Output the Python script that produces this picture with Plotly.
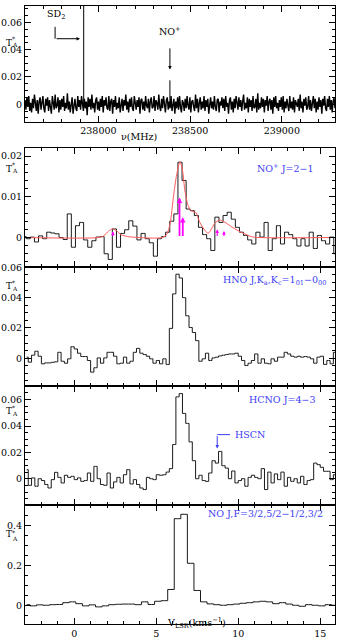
import numpy as np
import plotly.graph_objects as go

# ---------------- data ----------------
# top panel: wide-band spectrum (mK), channel grid over the frequency range
freq_start, freq_stop = 237600.0, 239290.0
wide_noise_mk = [
    3, -4, 5, -2, 6, -5, 1, -6, 4, -3, 7, -2, -5, 3, -7, 2, 5, -4, 0, 6,
    -3, -6, 4, -1, 5, -5, 3, -2, -7, 6, 2, -4, 7, -3, -1, 5, -6, 3, -4, 4,
    -2, 6, -5, 1, -3, 8, -4, 2, -6, 3, 5, -7, 1, 4, -3, -5, 6, -2, 3, -4,
    6, -1, -5, 4, -3, 2, -8, 5, -2, 4, -4, 7, -3, 1, -6, 3, 5, -4, 2, -5,
    4, -2, 6, -6, 3, -1, 5, -3, -4, 6, -5, 2, 4, -7, 3, -2, 6, -4, 1, -3,
    5, -6, 2, 4, -5, 3, -1, 7, -4, 2, -6, 4, -2, 5, -3, -5, 6, 1, -4, 3,
    -2, 5, -7, 3, 4, -4, 2, -5, 6, -1, -3, 4, -6, 2, 5, -3, -2, 6, -5, 3,
    1, -4, 7, -2, -5, 4, -3, 6, -1, -6, 3, 5, -4, 2, -3, 6, -5, 1, 4, -7,
    2, -3, 5, -4, 6, -2, -6, 3, 1, -5, 4, -3, 6, -1, -4, 5, -6, 2, 3, -2,
    -5, 7, -3, 4, -6, 1, 5, -4, 2, -3, 6, -5, 3, -2, 4, -7, 1, 5, -3, 2,
    -4, 6, -2, -5, 3, 4, -6, 2, -1, 5, -3, 4, -5, 6, -2, 1, -7, 3, 5, -4,
    2, -6, 4, -3, 6, -1, -4, 5, -2, 3, -5, 2, 7, -4, 1, -3, 5, -6, 4, -2,
    3, -5, 6, -3, -2, 4, -6, 8, -4, 1, -3, 5, -2, 4, -6, 3, -1, 6, -5, 2,
    4, -4, 3, -7, 5, -2, 6, -3, 1, -5, 3, -2, 5, -4, 6, -6, 2, -3, 4, -1,
    -5, 6, -3, 2, -4, 5, -6, 3, 1, -2, 4, -5, 7, -3, 2, -6, 4, -1, 5, -4,
    -2, 6, -4, 3, -5, 1, 6, -3, 4, -6, 2, -4, 5, -2, 3, -7, 4, -1, 6, -3,
    -5, 4, -2, 6, -4, 3, -6, 2, 5, -3,
]
line_names = ["SD2", "NO+"]
line_freqs = [237920.0, 238390.0]
line_peaks = [0.08, 0.0175]

# NO+ J=2-1 (mK), 0.25 km/s channels
noplus_v0, noplus_dv = -3.05, 0.25
noplus_mk = [
    0.2, -0.3, 0.1, -1.1, 0.4, -0.3, 1.3, 1.1, 0.9, 0.0,
    -0.5, 5.8, -2.4, 2.9, 3.7, -0.6, -2.4, -0.8, 0.1, 0.2,
    -4.0, -5.4, 2.1, -2.4, 1.0, 1.9, 4.1, 2.8, -0.6, 1.0,
    -0.3, -1.3, -4.6, -0.3, 0.2, 1.3, 4.0, 5.8,
    18.5, 14.0, 7.0, 6.6, 5.4, 2.5, 0.7, -0.3, -3.2, 5.0,
    3.7, 5.4, 6.2, 4.5, 2.5, 1.3, 0.5, -0.6, -1.6, 1.3,
    0.1, 3.7, -3.2, -0.3, 2.9, -1.6, 1.3, 0.7, -0.3, -2.1,
    -0.3, -2.1, 1.3, -2.7, 0.5, -0.8, -1.6, 0.1, -4.0,
]
# hyperfine model fit (mK)
model_v = [-3.0, 1.5, 1.8, 2.1, 2.35, 2.6, 2.85, 3.25, 3.9, 5.4, 5.65, 5.85,
           6.05, 6.25, 6.45, 6.6, 6.75, 6.95, 7.15, 7.4, 7.66, 7.97, 8.17,
           8.37, 8.57, 8.87, 9.17, 9.57, 9.98, 10.39, 10.8, 11.2, 16.0]
model_mk = [0.0, 0.0, 0.4, 1.6, 2.1, 1.6, 0.7, 0.25, 0.0, 0.0, 0.8, 3.5,
            10.0, 15.5, 18.6, 16.5, 11.5, 7.8, 6.5, 6.2, 3.7, 1.7, 1.05,
            2.1, 3.5, 4.3, 3.8, 2.7, 1.7, 0.9, 0.2, 0.0, 0.0]
# hyperfine components (velocity, relative height in mK)
hfs_v = [2.36, 4.9, 6.42, 6.62, 8.72, 9.13]
hfs_mk = [1.5, 0.5, 9.8, 5.0, 2.0, 1.6]

# HNO 1_01-0_00 (mK), 0.2 km/s channels
hno_v0, hno_dv = -2.9, 0.2
hno_mk = [
    0.7, -2.6, 2.0, 4.6, 1.3, -3.7, -3.1, -3.1, -2.7, -2.4,
    3.9, -2.0, -3.3, -0.4, 7.6, 6.1, 3.3, 1.1, 1.1, -1.5,
    -9.2, -6.3, 0.2, -3.3, 0.2, 3.9, 3.9, 1.3, -3.7, -3.3,
    0.7, -3.3, -2.0, 3.9, 6.5, 3.3, 2.4, 1.3, -0.4, -3.3,
    -1.5, -3.7, -0.4, -4.1, 19.7, 42.5, 55.5, 53.0, 40.0, 28.0,
    20.3, 17.0, 11.6, -2.0, -0.4, 3.3, -1.5, 0.2, 0.7, 1.5,
    2.0, 2.4, 2.8, 2.8, 3.3, 1.3, -1.5, -4.8, -3.3, -1.5,
    2.8, -3.3, -0.4, -3.3, -3.7, -0.4, -2.0, 0.7, 0.7, 3.9,
    2.8, 1.3, 0.7, 1.3, 0.7, 1.1, 0.7, -0.4, -3.3, 0.7,
    1.3, -4.1, -1.5, -3.7, 3.9,
]

# HCNO J=4-3 (mK), 0.2 km/s channels
hcno_v0, hcno_dv = -2.9, 0.2
hcno_mk = [
    7.0, -4.8, 0.8, -5.5, 0.2, -1.2, -4.2, -6.8, -0.5, 5.0,
    1.2, -3.0, 2.8, 1.2, 2.0, -0.5, 0.8, -1.8, -1.2, 4.5,
    -1.8, 9.5, 0.2, -4.2, -4.8, 4.5, -6.8, -2.2, 1.2, -3.0,
    3.2, 7.0, -3.8, -0.5, -4.2, -6.8, -8.0, 1.2, 0.2, -0.5,
    3.2, 2.8, 3.2, 5.2, 7.8, 26.0, 62.0, 64.5, 49.5, 42.0,
    28.0, 13.8, 0.2, 2.8, -1.2, -1.8, 4.5, 13.8, 12.0, 20.8,
    10.0, 8.2, 0.2, 6.0, -3.0, -1.2, 0.2, -5.5, 1.2, 2.8,
    1.2, 0.2, 7.8, -8.0, 5.2, -3.0, 3.8, -0.5, 5.2, -5.5,
    1.2, -1.8, 0.2, -3.0, 2.0, -4.2, -1.2, -0.5, 12.0, 10.8,
    8.8, 5.8, 5.8, -0.5, 3.2,
]

# NO J,F=3/2,5/2-1/2,3/2 (K), 0.4 km/s channels
no_v0, no_dv = -2.9, 0.4
no_k = [
    0.003, -0.003, 0.002, 0.0, 0.003, 0.004, 0.013, 0.017, 0.008, -0.003,
    0.002, -0.008, -0.003, 0.003, 0.005, 0.006, 0.006, 0.003, 0.017, 0.004,
    0.02, 0.023, 0.079, 0.433, 0.455, 0.21, 0.074, 0.017, 0.007, 0.003,
    0.0, 0.003, 0.006, 0.01, 0.013, 0.017, 0.02, 0.017, 0.008, 0.013,
    0.006, 0.0, -0.005, 0.003, 0.0, -0.003, 0.003, 0.0,
]

# ---------------- figure ----------------
W, H = 337, 640
FONT = "DejaVu Serif"
BLUE = "#3c3cf5"
HIST = "#1a1a1a"


def py(y):
    return 1 - y / H


def chan(v0, dv, n):
    return v0 + dv * np.arange(n)


fig = go.Figure()

# top panel
wide_f = np.linspace(freq_start, freq_stop, len(wide_noise_mk))
fig.add_trace(go.Scatter(x=wide_f, y=np.array(wide_noise_mk) / 1000.0,
                         mode="lines", line=dict(color="black", width=1.4),
                         xaxis="x", yaxis="y"))
for f, p in zip(line_freqs, line_peaks):
    fig.add_trace(go.Scatter(x=[f, f], y=[0, p], mode="lines",
                             line=dict(color="black", width=1),
                             xaxis="x", yaxis="y"))

# NO+ panel
fig.add_trace(go.Scatter(x=chan(noplus_v0, noplus_dv, len(noplus_mk)),
                         y=np.array(noplus_mk) / 1000.0, mode="lines",
                         line=dict(color=HIST, width=1, shape="hvh"),
                         xaxis="x2", yaxis="y2"))
fig.add_trace(go.Scatter(x=model_v, y=np.array(model_mk) / 1000.0,
                         mode="lines",
                         line=dict(color="#ff5a5a", width=1, shape="spline",
                                   smoothing=0.8),
                         xaxis="x2", yaxis="y2"))

# HNO, HCNO, NO panels
fig.add_trace(go.Scatter(x=chan(hno_v0, hno_dv, len(hno_mk)),
                         y=np.array(hno_mk) / 1000.0, mode="lines",
                         line=dict(color=HIST, width=1, shape="hvh"),
                         xaxis="x3", yaxis="y3"))
fig.add_trace(go.Scatter(x=chan(hcno_v0, hcno_dv, len(hcno_mk)),
                         y=np.array(hcno_mk) / 1000.0, mode="lines",
                         line=dict(color=HIST, width=1, shape="hvh"),
                         xaxis="x4", yaxis="y4"))
fig.add_trace(go.Scatter(x=chan(no_v0, no_dv, len(no_k)), y=no_k,
                         mode="lines",
                         line=dict(color=HIST, width=1, shape="hvh"),
                         xaxis="x5", yaxis="y5"))

# axes
x_dom = [25 / W, 335 / W]
panels = [(1, 118), (144, 264), (264, 384), (384, 504), (504, 624)]
y_ranges = [[-0.0131, 0.072], [-0.00724, 0.02203], [-0.01836, 0.0603],
            [-0.0197, 0.0702], [-0.0943, 0.5012]]
y_dticks = [0.02, 0.01, 0.02, 0.02, 0.2]
y_minor = [0.005, 0.002, 0.005, 0.005, 0.05]

common = dict(showline=True, linecolor="black", linewidth=1, mirror="ticks",
              ticks="inside", ticklen=6, tickwidth=1, tickcolor="black",
              showgrid=False, zeroline=False,
              tickfont=dict(family=FONT, size=9.5, color="black"))

layout = {}
for i, (top, bot) in enumerate(panels):
    k = "" if i == 0 else str(i + 1)
    if i == 0:
        xa = dict(common, domain=x_dom, range=[freq_start, freq_stop],
                  tick0=238000, dtick=500, tickformat="d",
                  minor=dict(ticks="inside", ticklen=3, dtick=100,
                             tickcolor="black"),
                  anchor="y")
    else:
        xa = dict(common, domain=x_dom, range=[-3.0, 15.9], tick0=0, dtick=5,
                  minor=dict(ticks="inside", ticklen=3, dtick=1,
                             tickcolor="black"),
                  showticklabels=(i == 4), anchor="y" + k)
    ya = dict(common, domain=[py(bot), py(top)], range=y_ranges[i],
              tick0=0, dtick=y_dticks[i],
              minor=dict(ticks="inside", ticklen=3, dtick=y_minor[i],
                         tickcolor="black"),
              anchor="x" + k)
    layout["xaxis" + k] = xa
    layout["yaxis" + k] = ya

fig.update_layout(**layout)

ann = []
# T*_A labels
for top_y in [31, 158, 283, 409, 540]:
    ann.append(dict(x=4 / W, y=py(top_y), xref="paper", yref="paper",
                    text="T", showarrow=False, xanchor="left",
                    font=dict(family=FONT, size=9, color="black")))
    ann.append(dict(x=10 / W, y=py(top_y - 3), xref="paper", yref="paper",
                    text="*", showarrow=False, xanchor="left",
                    font=dict(family=FONT, size=6, color="black")))
    ann.append(dict(x=10 / W, y=py(top_y + 3), xref="paper", yref="paper",
                    text="A", showarrow=False, xanchor="left",
                    font=dict(family=FONT, size=6, color="black")))

# axis titles
ann.append(dict(x=139 / W, y=py(125), xref="paper", yref="paper",
                text="ν(MHz)", showarrow=False,
                font=dict(family=FONT, size=9.5, color="black")))
ann.append(dict(x=196 / W, y=py(632), xref="paper", yref="paper",
                text="V<sub>LSR</sub>(kms<sup>−1</sup>)", showarrow=False,
                font=dict(family=FONT, size=9.5, color="black")))

# species labels
labels = [("NO<sup>+</sup> J=2−1", 316, 156),
          ("HNO J,K<sub>a</sub>,K<sub>c</sub>=1<sub>01</sub>−0<sub>00</sub>", 329, 278),
          ("HCNO J=4−3", 318, 398),
          ("NO J,F=3/2,5/2−1/2,3/2", 325, 520)]
for txt, xr, yc in labels:
    ann.append(dict(x=xr / W, y=py(yc), xref="paper", yref="paper", text=txt,
                    showarrow=False, xanchor="right",
                    font=dict(family=FONT, size=9.5, color=BLUE)))

# top panel line markers
ann.append(dict(x=237770, y=0.0595, xref="x", yref="y", text="SD<sub>2</sub>",
                showarrow=False, yanchor="bottom",
                font=dict(family=FONT, size=9.5, color="black")))
ann.append(dict(x=237900, y=0.048, ax=237764, ay=0.048, xref="x", yref="y",
                axref="x", ayref="y", text="", showarrow=True, arrowhead=2,
                arrowsize=0.7, arrowwidth=1, arrowcolor="black"))
ann.append(dict(x=line_freqs[1], y=0.0475, xref="x", yref="y",
                text="NO<sup>+</sup>", showarrow=False, yanchor="bottom",
                font=dict(family=FONT, size=9.5, color="black")))
ann.append(dict(x=line_freqs[1], y=0.0255, ax=line_freqs[1], ay=0.042,
                xref="x", yref="y", axref="x", ayref="y", text="",
                showarrow=True, arrowhead=2, arrowsize=0.7, arrowwidth=1,
                arrowcolor="black"))

# hyperfine component arrows
for v, h in zip(hfs_v, hfs_mk):
    w = 1.8 if h > 4 else 1.2
    ann.append(dict(x=v, y=h / 1000.0, ax=v, ay=0, xref="x2", yref="y2",
                    axref="x2", ayref="y2", text="", showarrow=True,
                    arrowhead=2, arrowsize=0.6, arrowwidth=w,
                    arrowcolor="#ff00ff"))

# HSCN marker
ann.append(dict(x=10.7, y=0.0335, xref="x4", yref="y4", text="HSCN",
                showarrow=False,
                font=dict(family=FONT, size=9.5, color=BLUE)))
ann.append(dict(x=8.72, y=0.023, ax=8.72, ay=0.0335, xref="x4", yref="y4",
                axref="x4", ayref="y4", text="", showarrow=True,
                arrowhead=2, arrowsize=0.7, arrowwidth=1, arrowcolor=BLUE))

shapes = [
    dict(type="line", xref="x", yref="y", x0=237764, x1=237764,
         y0=0.0567, y1=0.048, line=dict(color="black", width=1)),
    dict(type="line", xref="x4", yref="y4", x0=8.72, x1=9.5,
         y0=0.0335, y1=0.0335, line=dict(color=BLUE, width=1)),
]

fig.update_layout(width=W, height=H, margin=dict(l=0, r=0, t=0, b=0),
                  paper_bgcolor="white", plot_bgcolor="white",
                  showlegend=False, hovermode=False, annotations=ann,
                  shapes=shapes, font=dict(family=FONT, color="black"))

# page body has a default margin; remove it so the figure sits at the corner
fig.write_html("out.html", config={"displayModeBar": False},
               post_script="document.body.style.margin='0';")
